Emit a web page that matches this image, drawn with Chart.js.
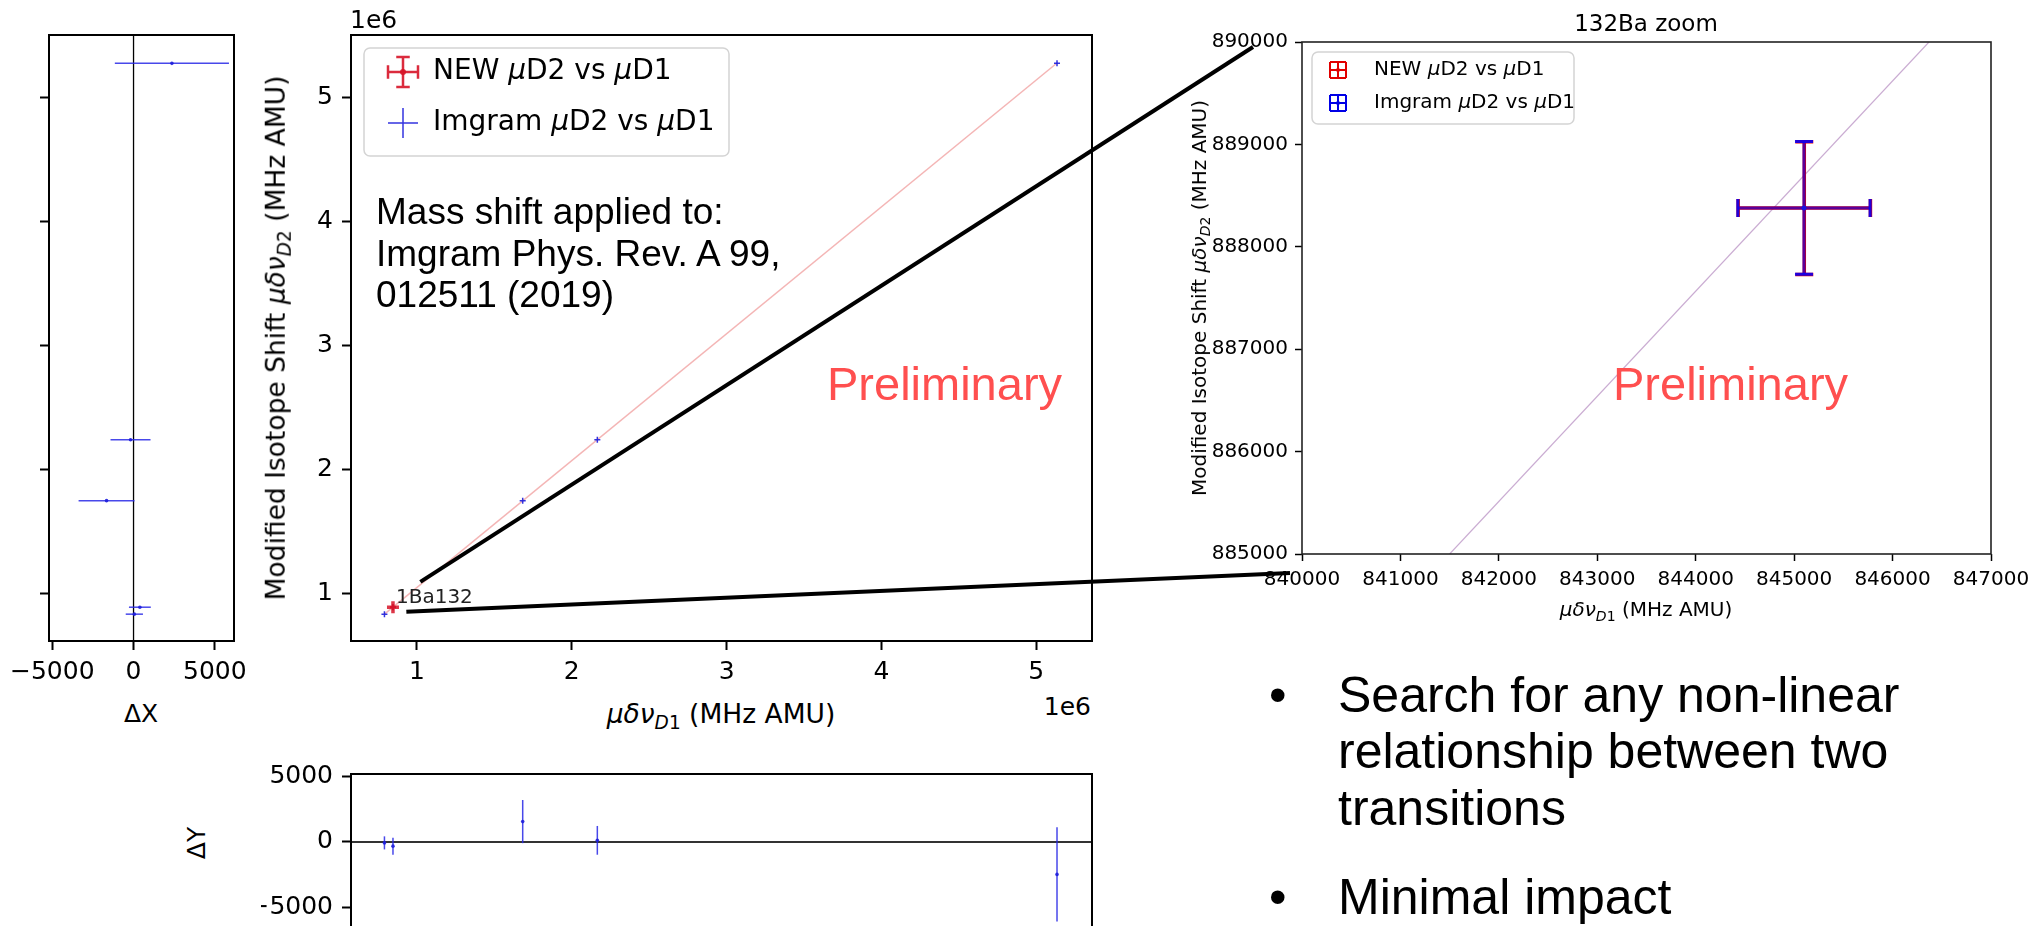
<!DOCTYPE html>
<html>
<head>
<meta charset="utf-8">
<script src="https://cdn.jsdelivr.net/npm/chart.js@4.4.1/dist/chart.umd.min.js"></script>
<style>
  html, body { margin: 0; padding: 0; background: #fff; }
  body { width: 2040px; height: 926px; overflow: hidden; position: relative; }
  .wrap { position: absolute; }
  .t { position: absolute; white-space: nowrap; line-height: 1; color: #000; }
  .sub { position: relative; top: 0.32em; font-size: 0.7em; }
</style>
</head>
<body>
<div class="wrap" id="wLeft"><canvas></canvas></div>
<div class="wrap" id="wMain"><canvas></canvas></div>
<div class="wrap" id="wBottom"><canvas></canvas></div>
<div class="wrap" id="wZoom"><canvas></canvas></div>
<canvas id="overlay" width="2040" height="926" style="position:absolute;left:0;top:0;pointer-events:none;z-index:5"></canvas>
<script>
// ---- Isotope shift data (MHz AMU) ----
const imgramD1    = [790000, 845100, 1683000, 2165000, 5134000];
const imgramD2    = [832300, 888380, 1747000, 2238400, 5271600];
const imgramD1Err = [530, 672, 1720, 1230, 3510];
const imgramD2Err = [500, 648, 1650, 1100, 3600];

const newD1    = [845103];
const newD2    = [888378];
const newD1Err = [672];
const newD2Err = [648];
const newLabels = ['1Ba132'];

// residuals from the linear fit
const residD1 = [50, 390, -1660, -185, 2360];
const residD2 = [-70, -320, 1560, 125, -2480];

// linear fit: end points over the full range, and where it crosses the 132Ba window
const fitD1 = [790000, 5134000];
const fitD2 = [832360, 5274100];
const zoomFitD1 = [841500, 846370];
const zoomFitD2 = [885000, 890000];

// tick values
const mainD1Ticks = [1e6, 2e6, 3e6, 4e6, 5e6];
const mainD2Ticks = [1e6, 2e6, 3e6, 4e6, 5e6];
const residTicks  = [-5000, 0, 5000];
const zoomD1Ticks = [840000, 841000, 842000, 843000, 844000, 845000, 846000, 847000];
const zoomD2Ticks = [885000, 886000, 887000, 888000, 889000, 890000];

const FONT = "'DejaVu Sans', sans-serif";
const SLIDE_FONT = "'Liberation Sans', Arial, sans-serif";

const pts = (xs, ys) => xs.map((x, i) => ({ x, y: ys[i] }));
const minus = v => (v < 0 ? '\u2212' + Math.abs(v) : String(v));

// ---- plugins ----
const framePlugin = {
  id: 'frame',
  afterDatasetsDraw(chart, args, o) {
    const { ctx, chartArea: a } = chart;
    ctx.save();
    ctx.strokeStyle = o.color || '#000';
    ctx.lineWidth = o.width || 2;
    ctx.strokeRect(a.left, a.top, a.right - a.left, a.bottom - a.top);
    ctx.restore();
  }
};

const refLinePlugin = {
  id: 'refLines',
  beforeDatasetsDraw(chart, args, o) {
    if (!o.lines) return;
    const { ctx, chartArea: a, scales } = chart;
    ctx.save();
    o.lines.forEach(l => {
      ctx.strokeStyle = l.color; ctx.lineWidth = l.width;
      ctx.beginPath();
      if (l.axis === 'x') {
        const p = scales.x.getPixelForValue(l.value);
        ctx.moveTo(p, a.top); ctx.lineTo(p, a.bottom);
      } else {
        const p = scales.y.getPixelForValue(l.value);
        ctx.moveTo(a.left, p); ctx.lineTo(a.right, p);
      }
      ctx.stroke();
    });
    ctx.restore();
  }
};

const errorBarPlugin = {
  id: 'errorBars',
  beforeDatasetDraw(chart, args) {
    const ds = chart.data.datasets[args.index];
    const eb = ds.errorBars;
    if (!eb) return;
    const { ctx, chartArea: a, scales: { x: sx, y: sy } } = chart;
    ctx.save();
    ctx.beginPath();
    ctx.rect(a.left, a.top, a.right - a.left, a.bottom - a.top);
    ctx.clip();
    ctx.lineWidth = eb.width;
    ds.data.forEach((p, i) => {
      const px = sx.getPixelForValue(p.x), py = sy.getPixelForValue(p.y);
      const bars = new Path2D(), caps = new Path2D();
      if (eb.xErr) {
        const x0 = sx.getPixelForValue(p.x - eb.xErr[i]);
        const x1 = sx.getPixelForValue(p.x + eb.xErr[i]);
        bars.moveTo(x0, py); bars.lineTo(x1, py);
        if (eb.cap) {
          caps.moveTo(x0, py - eb.cap); caps.lineTo(x0, py + eb.cap);
          caps.moveTo(x1, py - eb.cap); caps.lineTo(x1, py + eb.cap);
        }
      }
      if (eb.yErr) {
        const y0 = sy.getPixelForValue(p.y - eb.yErr[i]);
        const y1 = sy.getPixelForValue(p.y + eb.yErr[i]);
        bars.moveTo(px, y0); bars.lineTo(px, y1);
        if (eb.cap) {
          caps.moveTo(px - eb.cap, y0); caps.lineTo(px + eb.cap, y0);
          caps.moveTo(px - eb.cap, y1); caps.lineTo(px + eb.cap, y1);
        }
      }
      ctx.globalAlpha = eb.alpha == null ? 1 : eb.alpha;
      ctx.strokeStyle = eb.color;
      ctx.stroke(bars);
      if (eb.cap) {
        ctx.globalAlpha = eb.capAlpha == null ? ctx.globalAlpha : eb.capAlpha;
        ctx.stroke(caps);
      }
    });
    ctx.restore();
  }
};

// text next to a point of one dataset
const pointLabelPlugin = {
  id: 'pointLabels',
  afterDatasetsDraw(chart, args, o) {
    if (!o.labels) return;
    const { ctx, scales: { x: sx, y: sy } } = chart;
    const ds = chart.data.datasets[o.datasetIndex];
    ctx.save();
    ctx.font = `${o.size}px ${FONT}`;
    ctx.fillStyle = o.color || '#000';
    ctx.textBaseline = 'alphabetic';
    ds.data.forEach((p, i) => {
      ctx.fillText(o.labels[i], sx.getPixelForValue(p.x) + o.dx, sy.getPixelForValue(p.y) + o.dy);
    });
    ctx.restore();
  }
};

function drawRich(ctx, text, x, y, size) {
  const parts = text.split(/([μδν]+)/).filter(Boolean);
  let cx = x;
  parts.forEach(p => {
    const it = /[μδν]/.test(p);
    ctx.font = `${it ? 'italic ' : ''}${size}px ${FONT}`;
    ctx.fillText(p, cx, y);
    cx += ctx.measureText(p).width;
  });
}

function drawIcon(ctx, kind, cx, cy, color, s) {
  ctx.save();
  ctx.strokeStyle = color;
  ctx.beginPath();
  if (kind === 'capCross') {
    ctx.lineWidth = 2.5;
    ctx.moveTo(cx - s, cy); ctx.lineTo(cx + s, cy);
    ctx.moveTo(cx, cy - s); ctx.lineTo(cx, cy + s);
    ctx.moveTo(cx - s, cy - s * 0.45); ctx.lineTo(cx - s, cy + s * 0.45);
    ctx.moveTo(cx + s, cy - s * 0.45); ctx.lineTo(cx + s, cy + s * 0.45);
    ctx.moveTo(cx - s * 0.45, cy - s); ctx.lineTo(cx + s * 0.45, cy - s);
    ctx.moveTo(cx - s * 0.45, cy + s); ctx.lineTo(cx + s * 0.45, cy + s);
  } else if (kind === 'cross') {
    ctx.lineWidth = 1.5;
    ctx.moveTo(cx - s, cy); ctx.lineTo(cx + s, cy);
    ctx.moveTo(cx, cy - s); ctx.lineTo(cx, cy + s);
  } else if (kind === 'box') {
    ctx.lineWidth = 2;
    ctx.moveTo(cx - s, cy); ctx.lineTo(cx + s, cy);
    ctx.moveTo(cx, cy - s); ctx.lineTo(cx, cy + s);
    ctx.moveTo(cx - s, cy - s); ctx.lineTo(cx - s, cy + s);
    ctx.moveTo(cx + s, cy - s); ctx.lineTo(cx + s, cy + s);
    ctx.moveTo(cx - s, cy - s); ctx.lineTo(cx + s, cy - s);
    ctx.moveTo(cx - s, cy + s); ctx.lineTo(cx + s, cy + s);
  }
  ctx.stroke();
  if (kind === 'box' || kind === 'capCross') {
    ctx.fillStyle = color;
    ctx.beginPath(); ctx.arc(cx, cy, kind === 'box' ? 2 : 3, 0, Math.PI * 2); ctx.fill();
  }
  ctx.restore();
}

const boxLegendPlugin = {
  id: 'boxLegend',
  afterDraw(chart, args, o) {
    if (!o.items) return;
    const { ctx, chartArea: a } = chart;
    const x = a.left + o.x, y = a.top + o.y;
    ctx.save();
    ctx.beginPath();
    ctx.roundRect(x, y, o.w, o.h, 6);
    ctx.fillStyle = 'rgba(255,255,255,0.85)';
    ctx.fill();
    ctx.strokeStyle = '#d4d4d4';
    ctx.lineWidth = 1.5;
    ctx.stroke();
    ctx.textBaseline = 'middle';
    o.items.forEach((it, k) => {
      const ds = chart.data.datasets[it.datasetIndex];
      const cy = y + o.rows[k];
      drawIcon(ctx, it.icon, x + o.iconX, cy, it.color, o.iconSize);
      ctx.fillStyle = '#000';
      drawRich(ctx, ds.label, x + o.textX, cy, o.size);
    });
    ctx.restore();
  }
};

const plugins = [framePlugin, refLinePlugin, errorBarPlugin, pointLabelPlugin, boxLegendPlugin];

function axis(min, max, tickValues, o) {
  return {
    type: 'linear', min, max,
    afterBuildTicks: s => { s.ticks = tickValues.map(v => ({ value: v })); },
    ticks: {
      display: o.labels !== false, callback: o.fmt, color: '#000',
      font: { family: FONT, size: o.size }, padding: o.pad,
      maxRotation: 0, minRotation: 0, autoSkip: false
    },
    grid: {
      display: true, drawOnChartArea: false, drawTicks: true,
      tickLength: o.tl, tickWidth: o.tw, tickColor: '#000'
    },
    border: { display: false }
  };
}

function makeChart(id, frame, m, datasets, scales, pluginOpts) {
  const wrap = document.getElementById(id);
  const L = frame.l - m.l, T = frame.t - m.t;
  const W = frame.r - frame.l + m.l + m.r, H = frame.b - frame.t + m.t + m.b;
  Object.assign(wrap.style, { left: L + 'px', top: T + 'px', width: W + 'px', height: H + 'px' });
  scales.x.afterFit = s => { s.height = m.b; s.paddingLeft = 0; s.paddingRight = 0; };
  scales.y.afterFit = s => { s.width = m.l; s.paddingTop = 0; s.paddingBottom = 0; };
  const chart = new Chart(wrap.querySelector('canvas'), {
    type: 'scatter',
    data: { datasets },
    options: {
      animation: false, responsive: true, maintainAspectRatio: false,
      devicePixelRatio: 1, events: [],
      layout: { padding: { left: 0, top: m.t, right: m.r, bottom: 0 } },
      scales,
      plugins: Object.assign({ legend: { display: false }, tooltip: { enabled: false } }, pluginOpts)
    },
    plugins
  });
  chart.$page = { left: L, top: T };
  return chart;
}

// ---- main panel: D2 vs D1 ----
const mainFmt = v => String(Math.round(v / 1e6));
const mainChart = makeChart('wMain',
  { l: 351, t: 35, r: 1092, b: 641 }, { l: 55, t: 10, r: 25, b: 50 },
  [
    { label: 'NEW μD2 vs μD1', data: pts(newD1, newD2), order: 1,
      pointStyle: 'cross', pointRadius: 6, borderWidth: 3.5, borderColor: 'rgba(215,20,40,0.85)',
      errorBars: { xErr: newD1Err, yErr: newD2Err, color: 'rgba(215,20,40,0.85)', width: 2, cap: 3 } },
    { label: 'Imgram μD2 vs μD1', data: pts(imgramD1, imgramD2), order: 2,
      pointStyle: 'cross', pointRadius: 3, borderWidth: 1.5, borderColor: 'rgba(30,30,220,0.9)',
      errorBars: { xErr: imgramD1Err, yErr: imgramD2Err, color: 'rgba(30,30,220,0.9)', width: 1.2 } },
    { label: 'fit', data: pts(fitD1, fitD2), order: 3, showLine: true,
      borderColor: 'rgba(235,120,120,0.55)', borderWidth: 1.5, pointRadius: 0 }
  ],
  {
    x: axis(0.574e6, 5.36e6, mainD1Ticks, { fmt: mainFmt, size: 25, pad: 7, tl: 9, tw: 2 }),
    y: axis(0.616e6, 5.50e6, mainD2Ticks, { fmt: mainFmt, size: 25, pad: 9, tl: 9, tw: 2 })
  },
  {
    frame: { width: 2 },
    pointLabels: { datasetIndex: 0, labels: newLabels, dx: 3, dy: -4, size: 20, color: '#222' },
    boxLegend: {
      x: 13, y: 13, w: 365, h: 108, rows: [24, 75], iconX: 39, textX: 69, size: 28, iconSize: 15,
      items: [
        { datasetIndex: 0, icon: 'capCross', color: 'rgba(215,20,40,0.9)' },
        { datasetIndex: 1, icon: 'cross', color: 'rgba(30,30,220,0.9)' }
      ]
    }
  });

// ---- left panel: D1 residuals against D2 ----
const leftChart = makeChart('wLeft',
  { l: 49, t: 35, r: 234, b: 641 }, { l: 45, t: 10, r: 40, b: 50 },
  [
    { label: 'ΔX', data: pts(residD1, imgramD2), pointStyle: 'circle', pointRadius: 1.8,
      borderWidth: 0, backgroundColor: 'rgba(30,30,220,0.9)',
      errorBars: { xErr: imgramD1Err, color: 'rgba(40,40,230,0.85)', width: 1.5 } }
  ],
  {
    x: axis(-5200, 6180, residTicks, { fmt: minus, size: 25, pad: 7, tl: 9, tw: 2 }),
    y: axis(0.616e6, 5.50e6, mainD2Ticks, { labels: false, fmt: mainFmt, size: 25, pad: 4, tl: 9, tw: 2 })
  },
  {
    frame: { width: 2 },
    refLines: { lines: [{ axis: 'x', value: 0, color: '#000', width: 1.3 }] }
  });

// ---- bottom panel: D2 residuals against D1 ----
const bottomChart = makeChart('wBottom',
  { l: 351, t: 774, r: 1092, b: 934 }, { l: 90, t: 10, r: 25, b: 40 },
  [
    { label: 'ΔY', data: pts(imgramD1, residD2), pointStyle: 'circle', pointRadius: 1.8,
      borderWidth: 0, backgroundColor: 'rgba(30,30,220,0.9)',
      errorBars: { yErr: imgramD2Err, color: 'rgba(40,40,230,0.85)', width: 1.5 } }
  ],
  {
    x: axis(0.574e6, 5.36e6, mainD1Ticks, { labels: false, fmt: mainFmt, size: 25, pad: 7, tl: 9, tw: 2 }),
    y: axis(-7040, 5200, residTicks, { fmt: minus, size: 25, pad: 9, tl: 9, tw: 2 })
  },
  {
    frame: { width: 2 },
    refLines: { lines: [{ axis: 'y', value: 0, color: '#333', width: 2 }] }
  });

// ---- zoom on 132Ba ----
const zoomFmt = v => String(v);
const zoomChart = makeChart('wZoom',
  { l: 1302, t: 42, r: 1991, b: 554 }, { l: 95, t: 10, r: 42, b: 45 },
  [
    { label: 'Imgram μD2 vs μD1', data: pts(imgramD1, imgramD2), order: 1,
      pointStyle: 'circle', pointRadius: 2.5, borderWidth: 0, backgroundColor: 'rgba(20,20,230,0.9)',
      errorBars: { xErr: imgramD1Err, yErr: imgramD2Err, color: 'rgb(0,0,255)', width: 3, cap: 9,
                   alpha: 0.6, capAlpha: 0.85 } },
    { label: 'NEW μD2 vs μD1', data: pts(newD1, newD2), order: 2,
      pointStyle: 'circle', pointRadius: 2.5, borderWidth: 0, backgroundColor: 'rgba(220,0,0,0.9)',
      errorBars: { xErr: newD1Err, yErr: newD2Err, color: 'rgb(225,0,0)', width: 3.5, cap: 9 } },
    { label: 'fit', data: pts(zoomFitD1, zoomFitD2), order: 3, showLine: true,
      borderColor: 'rgba(150,90,165,0.5)', borderWidth: 1.2, pointRadius: 0 }
  ],
  {
    x: axis(840000, 847000, zoomD1Ticks, { fmt: zoomFmt, size: 20, pad: 7, tl: 7, tw: 1.5 }),
    y: axis(885000, 890000, zoomD2Ticks, { fmt: zoomFmt, size: 20, pad: 7, tl: 7, tw: 1.5 })
  },
  {
    frame: { width: 1.6, color: '#222' },
    boxLegend: {
      x: 10, y: 10, w: 262, h: 72, rows: [18, 51], iconX: 26, textX: 62, size: 20, iconSize: 8,
      items: [
        { datasetIndex: 1, icon: 'box', color: 'rgb(225,0,0)' },
        { datasetIndex: 0, icon: 'box', color: 'rgb(0,0,230)' }
      ]
    }
  });

// ---- connector lines from the 132Ba point region to the zoom panel ----
(function drawConnectors() {
  const ctx = document.getElementById('overlay').getContext('2d');
  const at = (ch, vx, vy) => [ch.$page.left + ch.scales.x.getPixelForValue(vx),
                              ch.$page.top + ch.scales.y.getPixelForValue(vy)];
  const za = zoomChart.chartArea, zl = zoomChart.$page.left, zt = zoomChart.$page.top;
  const links = [
    { from: at(mainChart, 1.022e6, 1.093e6), to: [zl + za.left - 49, zt + za.top + 5] },
    { from: at(mainChart, 0.9315e6, 0.852e6), to: [zl + za.left - 12, zt + za.bottom + 19] }
  ];
  ctx.strokeStyle = '#000';
  ctx.lineWidth = 4;
  ctx.lineCap = 'butt';
  links.forEach(l => {
    ctx.beginPath(); ctx.moveTo(l.from[0], l.from[1]); ctx.lineTo(l.to[0], l.to[1]); ctx.stroke();
  });
})();

// ---- text ----
function addText(html, o) {
  const d = document.createElement('div');
  d.className = 't';
  d.innerHTML = html;
  d.style.fontFamily = o.family || FONT;
  d.style.fontSize = o.size + 'px';
  if (o.color) d.style.color = o.color;
  d.style.zIndex = o.z || 2;
  d.style.left = o.x + 'px';
  if (o.rotate) {
    d.style.top = o.y + 'px';
    d.style.transform = 'translate(-50%,-50%) rotate(-90deg)';
  } else {
    d.style.top = (o.y - 0.846 * o.size) + 'px';
    const sh = o.align === 'center' ? '-50%' : o.align === 'right' ? '-100%' : '0';
    d.style.transform = `translateX(${sh})`;
  }
  document.body.appendChild(d);
}
const mu = sub => `<i>μδν</i><span class="sub"><i>D</i>${sub}</span>`;

addText('1e6', { x: 350, y: 28, size: 25 });
addText('1e6', { x: 1091, y: 715, size: 25, align: 'right' });
addText(`${mu(1)} (MHz AMU)`, { x: 721, y: 723, size: 26.5, align: 'center' });
addText(`Modified Isotope Shift ${mu(2)} (MHz AMU)`, { x: 276, y: 338, size: 26.5, rotate: true });
addText('ΔX', { x: 141, y: 722, size: 25, align: 'center' });
addText('ΔY', { x: 196, y: 843, size: 25, rotate: true });

addText('132Ba zoom', { x: 1646, y: 31, size: 23, align: 'center' });
addText(`${mu(1)} (MHz AMU)`, { x: 1646, y: 616, size: 20, align: 'center' });
addText(`Modified Isotope Shift ${mu(2)} (MHz AMU)`, { x: 1199, y: 298, size: 20, rotate: true });

addText('Mass shift applied to:', { x: 376, y: 224, size: 37, family: SLIDE_FONT });
addText('Imgram Phys. Rev. A 99,', { x: 376, y: 266, size: 37, family: SLIDE_FONT });
addText('012511 (2019)', { x: 376, y: 307, size: 37, family: SLIDE_FONT });

addText('Preliminary', { x: 827, y: 400, size: 47, family: SLIDE_FONT, color: '#ff4f4f' });
addText('Preliminary', { x: 1613, y: 400, size: 47, family: SLIDE_FONT, color: '#ff4f4f' });

const bullets = [
  { lines: ['Search for any non-linear', 'relationship between two', 'transitions'], y: 712 },
  { lines: ['Minimal impact'], y: 914 }
];
bullets.forEach(b => {
  addText('•', { x: 1269, y: b.y, size: 50, family: SLIDE_FONT });
  b.lines.forEach((s, i) => addText(s, { x: 1338, y: b.y + i * 56.5, size: 50, family: SLIDE_FONT }));
});
</script>
</body>
</html>
